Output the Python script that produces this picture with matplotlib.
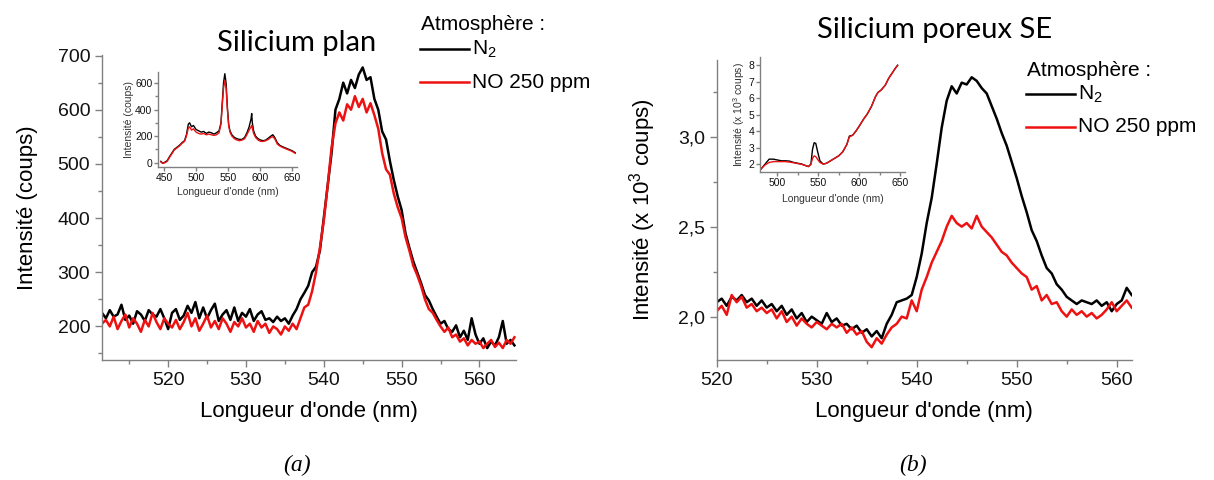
import numpy as np
import matplotlib
matplotlib.use("Agg")
import matplotlib.pyplot as plt
from matplotlib.lines import Line2D
from matplotlib.ticker import MultipleLocator, FuncFormatter

plt.rcParams["font.family"] = ["Liberation Sans", "DejaVu Sans"]
plt.rcParams["mathtext.fontset"] = "custom"
plt.rcParams["mathtext.rm"] = "Liberation Sans"
plt.rcParams["mathtext.it"] = "Liberation Sans:italic"

# --- (a) Silicium plan : main spectrum, 0.5 nm grid ---
wl_a = np.arange(511.5, 564.75, 0.5)
n2_a = [225, 215, 230, 218, 222, 240, 212, 220, 205, 228,
        222, 210, 230, 222, 218, 232, 215, 195, 225, 232,
        212, 220, 238, 225, 245, 215, 235, 215, 230, 242,
        210, 222, 230, 212, 235, 210, 225, 218, 232, 210,
        222, 228, 212, 215, 208, 218, 210, 215, 205, 220,
        232, 250, 262, 275, 300, 310, 340, 400, 460, 520,
        600, 620, 650, 630, 655, 640, 665, 678, 655, 660,
        620, 600, 560, 545, 505, 470, 440, 415, 372, 345,
        320, 300, 280, 258, 248, 232, 218, 205, 210, 195,
        190, 202, 180, 192, 175, 215, 185, 168, 178, 160,
        172, 165, 180, 210, 168, 175, 165]
no_a = [205, 212, 200, 218, 195, 210, 222, 198, 215, 205,
        190, 212, 200, 225, 208, 195, 215, 205, 198, 212,
        195, 208, 225, 200, 215, 192, 205, 220, 198, 210,
        195, 215, 205, 190, 208, 200, 215, 198, 205, 190,
        210, 198, 205, 188, 200, 195, 185, 200, 192, 205,
        195, 215, 235, 240, 265, 300, 345, 395, 460, 530,
        575, 595, 580, 610, 600, 625, 605, 620, 595, 612,
        590, 565, 520, 490, 480, 445, 420, 400, 365, 340,
        312, 295, 275, 250, 232, 225, 212, 200, 190, 198,
        180, 185, 172, 178, 165, 175, 168, 172, 160, 168,
        175, 162, 170, 160, 175, 168, 180]

# inset (a): full spectrum
wl_a_in = [445, 448, 452, 455, 458, 462, 466, 470, 474, 478, 482, 485, 488, 490,
           493, 496, 500, 504, 508, 512, 516, 520, 524, 528, 532, 536, 539, 541,
           543, 545, 547, 549, 551, 553, 556, 560, 564, 568, 572, 576, 580, 583,
           586, 587, 588, 590, 593, 597, 601, 605, 609, 613, 617, 620, 623, 627,
           631, 635, 640, 645, 650, 655]
n2_a_in = [10, -5, 5, 15, 40, 70, 100, 115, 130, 150, 165, 210, 290, 300,
           270, 280, 250, 240, 230, 235, 220, 230, 225, 215, 225, 240, 300, 450,
           600, 670, 600, 420, 290, 240, 210, 190, 180, 175, 175, 190, 230, 270,
           330, 370, 300, 240, 200, 180, 170, 165, 170, 185, 200, 210, 190, 150,
           130, 120, 110, 100, 90, 75]
no_a_in = [5, -5, 0, 10, 35, 65, 95, 110, 125, 145, 160, 200, 260, 270,
           245, 255, 230, 220, 215, 220, 210, 215, 210, 205, 210, 225, 290, 430,
           560, 620, 560, 400, 280, 230, 200, 180, 170, 165, 170, 180, 215, 245,
           270, 280, 260, 220, 190, 170, 160, 160, 165, 175, 190, 195, 180, 140,
           125, 115, 105, 95, 85, 70]

# --- (b) Silicium poreux SE : main spectrum (x 10^3 coups) ---
wl_b = np.arange(520.0, 561.75, 0.5)
n2_b = [2.08, 2.10, 2.06, 2.11, 2.09, 2.12, 2.08, 2.10, 2.06, 2.09,
        2.05, 2.07, 2.03, 2.06, 2.01, 2.04, 1.99, 2.02, 1.97, 2.00,
        1.98, 1.96, 2.02, 1.97, 1.99, 1.95, 1.96, 1.93, 1.95, 1.91,
        1.93, 1.89, 1.92, 1.88, 1.96, 2.01, 2.08, 2.09, 2.10, 2.12,
        2.22, 2.35, 2.52, 2.66, 2.85, 3.05, 3.20, 3.28, 3.24, 3.30,
        3.29, 3.33, 3.31, 3.27, 3.24, 3.17, 3.10, 3.02, 2.95, 2.86,
        2.77, 2.67, 2.58, 2.48, 2.42, 2.34, 2.27, 2.24, 2.18, 2.15,
        2.11, 2.09, 2.07, 2.09, 2.08, 2.07, 2.09, 2.06, 2.08, 2.03,
        2.07, 2.09, 2.16, 2.12]
no_b = [2.03, 2.06, 2.01, 2.12, 2.08, 2.11, 2.05, 2.07, 2.03, 2.05,
        2.02, 2.04, 1.99, 2.03, 1.97, 2.00, 1.95, 1.99, 1.96, 1.94,
        1.97, 1.95, 1.93, 1.96, 1.94, 1.96, 1.91, 1.94, 1.90, 1.92,
        1.86, 1.83, 1.88, 1.85, 1.90, 1.94, 1.96, 2.00, 1.99, 2.09,
        2.03, 2.15, 2.22, 2.30, 2.36, 2.42, 2.50, 2.56, 2.52, 2.50,
        2.52, 2.49, 2.56, 2.50, 2.47, 2.44, 2.40, 2.36, 2.34, 2.30,
        2.27, 2.24, 2.22, 2.15, 2.17, 2.09, 2.12, 2.07, 2.08, 2.03,
        2.00, 2.04, 2.01, 2.03, 2.00, 2.02, 1.99, 2.01, 2.04, 2.08,
        2.03, 2.06, 2.09, 2.05]

# inset (b): full spectrum
wl_b_in = [480, 485, 490, 495, 500, 505, 510, 515, 520, 525, 530, 535, 538,
           541, 543, 545, 547, 549, 552, 556, 560, 565, 570, 575, 580, 585,
           588, 592, 596, 600, 605, 610, 615, 620, 623, 627, 632, 636, 640,
           644, 647]
n2_b_in = [1.70, 2.00, 2.30, 2.30, 2.25, 2.20, 2.20, 2.18, 2.10, 2.05, 2.00, 1.90, 1.85,
           2.00, 2.90, 3.30, 3.25, 2.80, 2.20, 2.00, 2.05, 2.20, 2.35, 2.50, 2.75, 3.20,
           3.70, 3.75, 4.00, 4.30, 4.70, 5.05, 5.50, 6.10, 6.35, 6.50, 6.80, 7.20, 7.50,
           7.80, 8.00]
no_b_in = [1.70, 1.95, 2.10, 2.15, 2.15, 2.15, 2.15, 2.12, 2.08, 2.03, 1.98, 1.90, 1.85,
           1.98, 2.35, 2.50, 2.45, 2.30, 2.10, 2.00, 2.05, 2.20, 2.35, 2.50, 2.75, 3.20,
           3.65, 3.75, 4.00, 4.30, 4.70, 5.05, 5.50, 6.10, 6.35, 6.50, 6.80, 7.20, 7.50,
           7.80, 8.00]

W, H = 1214, 480
SPINE = "#808080"
RED = "#ee1111"
fig = plt.figure(figsize=(W / 100, H / 100), dpi=100)


def px_axes(l, t, r, b):
    return fig.add_axes([l / W, 1 - b / H, (r - l) / W, (b - t) / H])


def style(ax, fs, major, minor):
    for s in ("top", "right"):
        ax.spines[s].set_visible(False)
    for s in ("left", "bottom"):
        ax.spines[s].set_color(SPINE)
        ax.spines[s].set_linewidth(1.0)
    ax.tick_params(which="major", direction="out", length=major, width=1.0,
                   color=SPINE, labelsize=fs, labelcolor="#111111")
    ax.tick_params(which="minor", direction="out", length=minor, width=1.0, color=SPINE)


comma = FuncFormatter(lambda v, p: f"{v:.1f}".replace(".", ","))

# panel (a)
ax = px_axes(102, 55, 516, 360)
ax.plot(wl_a, n2_a, color="black", lw=1.8)
ax.plot(wl_a, no_a, color=RED, lw=1.8)
ax.set_xlim(511.5, 564.7)
ax.set_ylim(138, 701)
ax.xaxis.set_major_locator(MultipleLocator(10))
ax.xaxis.set_minor_locator(MultipleLocator(5))
ax.yaxis.set_major_locator(MultipleLocator(100))
ax.yaxis.set_minor_locator(MultipleLocator(50))
style(ax, 14, 5, 3)
ax.set_xlabel("Longueur d'onde (nm)", fontsize=16, labelpad=9)
ax.set_ylabel("Intensité (coups)", fontsize=16, labelpad=14)

ins = px_axes(158, 72, 297, 167)
ins.plot(wl_a_in, n2_a_in, color="black", lw=1.0)
ins.plot(wl_a_in, no_a_in, color=RED, lw=1.0)
ins.set_xlim(440.6, 657.8)
ins.set_ylim(-33, 683)
ins.xaxis.set_major_locator(MultipleLocator(50))
ins.yaxis.set_major_locator(MultipleLocator(200))
ins.yaxis.set_minor_locator(MultipleLocator(100))
style(ins, 7.5, 3, 2)
ins.tick_params(pad=1)
ins.set_xlabel("Longueur d'onde (nm)", fontsize=7.5, labelpad=3, color="#333333")
ins.set_ylabel("Intensité (coups)", fontsize=7.5, labelpad=1, color="#333333")

# panel (b)
bx = px_axes(716.7, 60, 1131.7, 360)
bx.plot(wl_b, n2_b, color="black", lw=1.8)
bx.plot(wl_b, no_b, color=RED, lw=1.8)
bx.set_xlim(520, 561.5)
bx.set_ylim(1.759, 3.426)
bx.xaxis.set_major_locator(MultipleLocator(10))
bx.xaxis.set_minor_locator(MultipleLocator(5))
bx.yaxis.set_major_locator(MultipleLocator(0.5))
bx.yaxis.set_minor_locator(MultipleLocator(0.25))
bx.yaxis.set_major_formatter(comma)
style(bx, 14, 5, 3)
bx.set_xlabel("Longueur d'onde (nm)", fontsize=16, labelpad=9)
bx.set_ylabel("Intensité (x 10$^3$ coups)", fontsize=16, labelpad=14)

ins2 = px_axes(760, 57, 905, 172)
ins2.plot(wl_b_in, n2_b_in, color="black", lw=1.0)
ins2.plot(wl_b_in, no_b_in, color=RED, lw=1.0)
ins2.set_xlim(478.8, 656)
ins2.set_ylim(1.52, 8.5)
ins2.xaxis.set_major_locator(MultipleLocator(50))
ins2.xaxis.set_minor_locator(MultipleLocator(25))
ins2.yaxis.set_major_locator(MultipleLocator(1))
style(ins2, 7.5, 3, 2)
ins2.tick_params(pad=1)
ins2.set_xlabel("Longueur d'onde (nm)", fontsize=7.5, labelpad=5, color="#333333")
ins2.set_ylabel("Intensité (x 10$^3$ coups)", fontsize=7.5, labelpad=1, color="#333333")

# titles
fig.text(297 / W, 1 - 43 / H, "Silicium plan", fontsize=21, family=["Lato", "DejaVu Sans"],
         ha="center", va="center")
fig.text(935 / W, 1 - 30 / H, "Silicium poreux SE", fontsize=21, family=["Lato", "DejaVu Sans"],
         ha="center", va="center")


# legends drawn by hand, as in the source figure
def legend(x0, y0):
    fig.text((x0 + 1) / W, 1 - y0 / H, "Atmosphère :", fontsize=15, ha="left", va="center")
    for dy, col, lab in ((24, "black", "N$_2$"), (57, RED, "NO 250 ppm")):
        yy = 1 - (y0 + dy) / H
        fig.add_artist(Line2D([x0 / W, (x0 + 49) / W], [yy, yy], color=col, lw=1.8))
        fig.text((x0 + 52) / W, yy, lab, fontsize=15, ha="left", va="center")


legend(420, 25)
legend(1026, 70)

# captions
fig.text(297 / W, 1 - 465 / H, "(a)", fontsize=17, style="italic",
         family=["Liberation Serif", "DejaVu Serif"], ha="center", va="center")
fig.text(913 / W, 1 - 465 / H, "(b)", fontsize=17, style="italic",
         family=["Liberation Serif", "DejaVu Serif"], ha="center", va="center")

fig.savefig("out.png", dpi=100)
